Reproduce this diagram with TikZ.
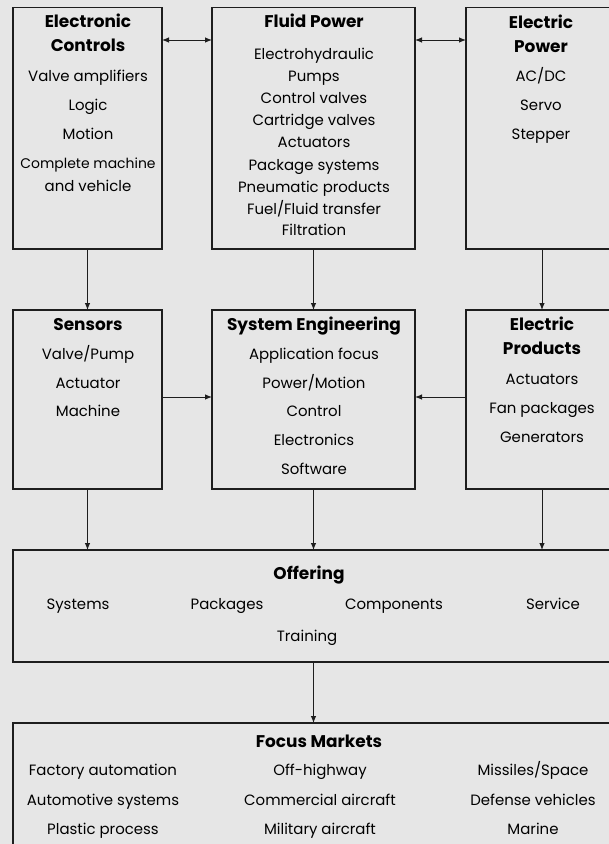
\documentclass[tikz,border=0pt]{standalone}
\usepackage{fontspec}
\setmainfont{Poppins}
\usetikzlibrary{arrows.meta,calc}
\definecolor{bgcol}{HTML}{E6E6E6}
\definecolor{linecol}{HTML}{1E1E1E}
\tikzset{
  boxnode/.style={draw=linecol, line width=1.1bp, fill=bgcol, inner sep=0pt, outer sep=0pt},
  arr/.style={draw=linecol, line width=0.9bp, -{Latex[length=7bp,width=5.5bp]}},
  darr/.style={draw=linecol, line width=0.9bp, {Latex[length=7bp,width=5.5bp]}-{Latex[length=7bp,width=5.5bp]}},
  txt/.style={font=\fontsize{15}{18}\selectfont, anchor=mid, inner sep=0pt, text=black},
  ttl/.style={txt, font=\fontsize{17}{20}\selectfont\bfseries}
}
\begin{document}
\begin{tikzpicture}[x=1bp,y=-1bp]
\fill[bgcol] (0,0) rectangle (609,844);
\useasboundingbox (0,0) rectangle (609,844);
% boxes
\node[boxnode, minimum width=149bp, minimum height=241.5bp] (ec) at (87.5,128.25) {};
\node[boxnode, minimum width=203bp, minimum height=241.5bp] (fp) at (313.5,128.25) {};
\node[boxnode, minimum width=152bp, minimum height=241.5bp] (ep) at (542,128.25) {};
\node[boxnode, minimum width=149bp, minimum height=179bp] (sen) at (87.5,399.5) {};
\node[boxnode, minimum width=203bp, minimum height=179bp] (se) at (313.5,399.5) {};
\node[boxnode, minimum width=152bp, minimum height=179bp] (epr) at (542,399.5) {};
\node[boxnode, minimum width=605bp, minimum height=112bp] (off) at (315.5,606) {};
\node[boxnode, minimum width=605bp, minimum height=140bp] (fm) at (315.5,793) {};
% connectors
\draw[darr] ($(ec.north east)+(0,32.5)$) -- ($(fp.north west)+(0,32.5)$);
\draw[darr] ($(fp.north east)+(0,32.5)$) -- ($(ep.north west)+(0,32.5)$);
\draw[arr] (ec.south) -- (sen.north);
\draw[arr] (fp.south) -- (se.north);
\draw[arr] (ep.south) -- (epr.north);
\draw[arr] ($(sen.north east)+(0,87)$) -- ($(se.north west)+(0,87)$);
\draw[arr] ($(epr.north west)+(0,87)$) -- ($(se.north east)+(0,87)$);
\draw[arr] (sen.south) -- (sen.south |- off.north);
\draw[arr] (se.south) -- (se.south |- off.north);
\draw[arr] (epr.south) -- (epr.south |- off.north);
\draw[arr] (off.south -| se.south) -- (fm.north -| se.south);
% Electronic Controls
\node[ttl] (ec1) at (88,25) {Electronic};
\node[ttl] (ec2) at (88,49) {Controls};
\node[txt] (ec3) at (88,79) {Valve amplifiers};
\node[txt] (ec4) at (88,108) {Logic};
\node[txt] (ec5) at (88,137) {Motion};
\node[txt, font=\fontsize{14}{18}\selectfont] (ec6) at (88,166) {Complete machine};
\node[txt] (ec7) at (88,189) {and vehicle};
% Fluid Power
\node[ttl] (fp1) at (314,25) {Fluid Power};
\node[txt] (fp2) at (314,57) {Electrohydraulic};
\node[txt] (fp3) at (314,79) {Pumps};
\node[txt] (fp4) at (314,101) {Control valves};
\node[txt] (fp5) at (314,123) {Cartridge valves};
\node[txt] (fp6) at (314,145) {Actuators};
\node[txt] (fp7) at (314,168) {Package systems};
\node[txt] (fp8) at (314,190) {Pneumatic products};
\node[txt] (fp9) at (314,212) {Fuel/Fluid transfer};
\node[txt] (fp10) at (314,233) {Filtration};
% Electric Power
\node[ttl] (ep1) at (541,26) {Electric};
\node[ttl] (ep2) at (541,50) {Power};
\node[txt] (ep3) at (541,79) {AC/DC};
\node[txt] (ep4) at (541,108) {Servo};
\node[txt] (ep5) at (541,137) {Stepper};
% Sensors
\node[ttl] (sn1) at (88,328) {Sensors};
\node[txt] (sn2) at (88,357) {Valve/Pump};
\node[txt] (sn3) at (88,386) {Actuator};
\node[txt] (sn4) at (88,414) {Machine};
% System Engineering
\node[ttl] (se1) at (314,328) {System Engineering};
\node[txt] (se2) at (314,357) {Application focus};
\node[txt] (se3) at (314,386) {Power/Motion};
\node[txt] (se4) at (314,414) {Control};
\node[txt] (se5) at (314,443) {Electronics};
\node[txt] (se6) at (314,472) {Software};
% Electric Products
\node[ttl] (pr1) at (542,328) {Electric};
\node[ttl] (pr2) at (542,352) {Products};
\node[txt] (pr3) at (542,382) {Actuators};
\node[txt] (pr4) at (542,411) {Fan packages};
\node[txt] (pr5) at (542,440) {Generators};
% Offering
\node[ttl] (of1) at (309,577) {Offering};
\node[txt] (of2) at (78,607) {Systems};
\node[txt] (of3) at (227,607) {Packages};
\node[txt] (of4) at (394,607) {Components};
\node[txt] (of5) at (553,607) {Service};
\node[txt] (of6) at (307,639) {Training};
% Focus Markets
\node[ttl] (fm1) at (319,745) {Focus Markets};
\node[txt] (fm2) at (103,773) {Factory automation};
\node[txt] (fm3) at (103,803) {Automotive systems};
\node[txt] (fm4) at (103,832) {Plastic process};
\node[txt] (fm5) at (320,773) {Off-highway};
\node[txt] (fm6) at (320,803) {Commercial aircraft};
\node[txt] (fm7) at (320,832) {Military aircraft};
\node[txt] (fm8) at (533,773) {Missiles/Space};
\node[txt] (fm9) at (533,803) {Defense vehicles};
\node[txt] (fm10) at (533,832) {Marine};
\end{tikzpicture}
\end{document}
